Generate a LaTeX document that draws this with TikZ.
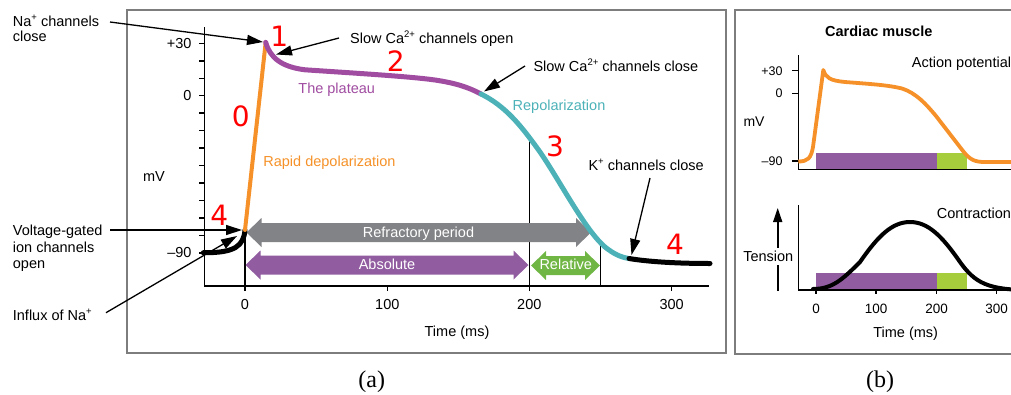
\documentclass[tikz,border=0pt]{standalone}
\usepackage{fontspec}
\setmainfont{Liberation Sans}
\newfontfamily\phasefont{DejaVu Sans}
\newfontfamily\panelfont{Liberation Serif}
\usetikzlibrary{arrows.meta}

\definecolor{apOrange}{RGB}{245,145,40}
\definecolor{apPurple}{RGB}{160,76,160}
\definecolor{apTeal}{RGB}{76,178,184}
\definecolor{refGray}{RGB}{130,131,134}
\definecolor{absPurple}{RGB}{145,92,160}
\definecolor{relGreen}{RGB}{112,182,68}
\definecolor{barGreen}{RGB}{166,206,60}
\definecolor{frameGray}{RGB}{125,125,125}

% raised small index (ion charges)
\newcommand{\sups}[1]{\raisebox{6pt}{\fontsize{9.5}{10}\selectfont #1}}
% horizontal two-headed block arrow: colour, left tip x, right tip x, centre y
\newcommand{\blockarrow}[4]{%
  \fill[#1] (#2,#4) -- (#2+15,#4-14.5) -- (#2+15,#4-9.5) -- (#3-15,#4-9.5)
    -- (#3-15,#4-14.5) -- (#3,#4) -- (#3-15,#4+14.5) -- (#3-15,#4+9.5)
    -- (#2+15,#4+9.5) -- (#2+15,#4+14.5) -- cycle;}

\begin{document}
\begin{tikzpicture}[x=1pt,y=-1pt,
  lbl/.style={inner sep=0pt, font=\fontsize{14.5}{17}\selectfont},
  ticklbl/.style={inner sep=0pt, font=\fontsize{12.5}{14}\selectfont},
  phasenum/.style={inner sep=0pt, text=red, font=\phasefont\fontsize{28}{30}\selectfont},
  paneltag/.style={inner sep=0pt, font=\panelfont\fontsize{24}{26}\selectfont},
  panelframe/.style={draw=frameGray, line width=1.4pt},
  axisline/.style={line width=1.5pt},
  guide/.style={line width=1.2pt},
  ptr/.style={line width=1.3pt, -{Triangle[length=16pt,width=10pt]}},
  aptrace/.style={line width=5pt, line cap=round, line join=round},
]
\useasboundingbox (0,0) rectangle (1011,394);
\clip (0,0) rectangle (1011,394);

% ---------------- panel (a) ----------------
\draw[panelframe] (127,10) rectangle (726,353);

% axes and ticks
\draw[axisline] (204.7,27) -- (204.7,286) -- (709,286);
\foreach \v in {30,20,...,-90}
  \draw[axisline] (199,{95.7-1.745*\v}) -- (204.7,{95.7-1.745*\v});
\draw[axisline] (387.3,286) -- (387.3,291);
\draw[axisline] (671.7,286) -- (671.7,291);

% time markers at 0, 200 and 250 ms
\draw[guide] (245,291) -- (245,230);
\draw[guide] (529.3,291) -- (529.3,141);
\draw[guide] (600.7,286) -- (600.7,243);

% axis labels
\node[lbl, anchor=base east] (ya30) at (191.7,48.3) {+30};
\node[lbl, anchor=base east] (ya0) at (191.7,100.7) {0};
\node[lbl, anchor=base east] (ya90) at (191.7,257.7) {–90};
\node[lbl, anchor=base] (yamv) at (154,181.7) {mV};
\node[lbl, anchor=base] (xa0) at (245,309) {0};
\node[lbl, anchor=base] (xa100) at (387.3,309) {100};
\node[lbl, anchor=base] (xa200) at (529.3,309) {200};
\node[lbl, anchor=base] (xa300) at (671.7,309) {300};
\node[lbl, anchor=base] (xatime) at (457,336.7) {Time (ms)};

% refractory periods
\blockarrow{refGray}{246.5}{591}{232.5}
\node[lbl, text=white, anchor=base] (refr) at (418.5,237.7) {Refractory period};
\blockarrow{absPurple}{245.5}{528.5}{265}
\node[lbl, text=white, anchor=base] (absl) at (387,269.3) {Absolute};
\blockarrow{relGreen}{531}{600}{265.5}
\node[lbl, text=white, anchor=base] (relt) at (565.7,269.3) {Relative};

% action potential trace
\draw[aptrace, black] (203.3,252.7) .. controls (235,253) and (243.5,246) .. (245,230);
\draw[aptrace, apOrange, line width=4pt] (245,230) -- (265.7,42.3);
\draw[aptrace, apPurple] (265.7,42.3) .. controls (270,58) and (282,67) .. (305,69.8)
  .. controls (360,73.5) and (410,76.5) .. (435,80)
  .. controls (455,83) and (468,87) .. (481,94);
\draw[aptrace, apTeal] (481,94) .. controls (505,106) and (520,124) .. (540,152)
  .. controls (560,181) and (585,230) .. (605,247)
  .. controls (614,254) and (620,257) .. (629,258.5);
\draw[aptrace, black] (629,258.5) .. controls (650,262) and (680,263.5) .. (710,263.5);

% phase names
\node[lbl, text=apPurple, anchor=base] (plat) at (336.7,93.3) {The plateau};
\node[lbl, text=apTeal, anchor=base] (repol) at (559,110) {Repolarization};
\node[lbl, text=apOrange, anchor=base] (rapid) at (329.5,166) {Rapid depolarization};

% phase numbers
\node[phasenum, anchor=base] (ph0) at (240.7,126) {0};
\node[phasenum, anchor=base] (ph1) at (279.3,46.7) {1};
\node[phasenum, anchor=base] (ph2) at (395.7,71.7) {2};
\node[phasenum, anchor=base] (ph3) at (555,156.7) {3};
\node[phasenum, anchor=base] (ph4a) at (219.3,225) {4};
\node[phasenum, anchor=base] (ph4b) at (675,254) {4};

% channel events
\node[lbl, anchor=base west] (naA) at (12.7,26) {Na\sups{+} channels};
\node[lbl, anchor=base west] (naB) at (12.7,41.7) {close};
\node[lbl, anchor=base west] (caopen) at (350,43.3) {Slow Ca\sups{2+} channels open};
\node[lbl, anchor=base west] (caclose) at (533.3,71.7) {Slow Ca\sups{2+} channels close};
\node[lbl, anchor=base west] (kclose) at (588.3,170.7) {K\sups{+} channels close};
\node[lbl, anchor=base west] (vgA) at (12.7,235.7) {Voltage-gated};
\node[lbl, anchor=base west] (vgB) at (12.7,252.3) {ion channels};
\node[lbl, anchor=base west] (vgC) at (12.7,268.3) {open};
\node[lbl, anchor=base west] (influx) at (12.7,320) {Influx of Na\sups{+}};

\coordinate (naTail) at (110,22);
\coordinate (naTip) at (263,42);
\coordinate (caoTail) at (339,38);
\coordinate (caoTip) at (276,54.5);
\coordinate (cacTail) at (525,66);
\coordinate (cacTip) at (484,91.5);
\coordinate (kTail) at (650,178);
\coordinate (kTip) at (631.5,255);
\coordinate (vgTail) at (110,230);
\coordinate (vgTip) at (242,230);
\coordinate (inTail) at (106,312.7);
\coordinate (inTip) at (237,236);

\draw[ptr] (naTail) -- (naTip);
\draw[ptr] (caoTail) -- (caoTip);
\draw[ptr] (cacTail) -- (cacTip);
\draw[ptr] (kTail) -- (kTip);
\draw[ptr] (vgTail) -- (vgTip);
\draw[ptr] (inTail) -- (inTip);

\node[paneltag, anchor=base] (tagA) at (371.7,387) {(a)};

% ---------------- panel (b) ----------------
\draw[panelframe] (735,10) rectangle (1030,354);
\node[lbl, font=\fontsize{14.5}{17}\selectfont\bfseries, anchor=base] (cm) at (878.8,36.7) {Cardiac muscle};

% action potential
\fill[absPurple] (815.7,152.7) rectangle (936.7,169.3);
\fill[barGreen] (936.7,152.7) rectangle (966.7,169.3);
\draw[axisline] (798.3,55) -- (798.3,169.3) -- (1030,169.3);
\foreach \y in {70.7,93.3,161}
  \draw[axisline] (792,\y) -- (798.3,\y);
\node[ticklbl, anchor=base east] (yb30) at (782.7,75) {+30};
\node[ticklbl, anchor=base east] (yb0) at (782.7,97.7) {0};
\node[ticklbl, anchor=base east] (yb90) at (782.7,165) {–90};
\node[lbl, font=\fontsize{14}{16}\selectfont, anchor=base west] (ybmv) at (743.3,126) {mV};
\node[lbl, anchor=base west] (aplbl) at (911.7,67.7) {Action potential};
\draw[apOrange, line width=3.8pt, line join=round]
  (798.3,161.5) .. controls (808,161.5) and (811,158) .. (813,147)
  -- (823.3,70) .. controls (826,78) and (830,80.5) .. (845,82)
  .. controls (870,84) and (888,85) .. (902,88.5)
  .. controls (916,93) and (926,104) .. (936,116)
  -- (963,151) .. controls (970,160) and (975,162) .. (985,162) -- (1030,162);

% contraction
\fill[absPurple] (815.7,272.7) rectangle (936.7,290);
\fill[barGreen] (936.7,272.7) rectangle (966.7,290);
\draw[axisline] (798.3,205) -- (798.3,290) -- (1030,290);
\foreach \x in {816,876.2,936.5,996.7}
  \draw[axisline] (\x,290) -- (\x,294);
\node[lbl, font=\fontsize{13.5}{16}\selectfont, anchor=base] (xb0) at (816,313.3) {0};
\node[lbl, font=\fontsize{13.5}{16}\selectfont, anchor=base] (xb100) at (876.2,313.3) {100};
\node[lbl, font=\fontsize{13.5}{16}\selectfont, anchor=base] (xb200) at (936.5,313.3) {200};
\node[lbl, font=\fontsize{13.5}{16}\selectfont, anchor=base] (xb300) at (996.7,313.3) {300};
\node[lbl, anchor=base] (xbtime) at (905.7,337.7) {Time (ms)};
\node[lbl, anchor=base west] (ctlbl) at (936.7,218.3) {Contraction};
\draw[line width=4pt, line cap=round]
  (813,289) .. controls (832,289) and (842,280) .. (860,262)
  .. controls (878,236) and (892,222) .. (910,222)
  .. controls (928,222) and (942,236) .. (960,262)
  .. controls (975,283) and (988,290) .. (1030,290);

\coordinate (tenBase) at (777.7,291);
\coordinate (tenTip) at (777.7,208);
\draw[line width=1.6pt, -{Triangle[length=14pt,width=9pt]}] (tenBase) -- (tenTip);
\node[lbl, fill=white, inner xsep=1pt, inner ysep=3pt, anchor=base] (tension) at (768.3,261.7) {Tension};

\node[paneltag, anchor=base] (tagB) at (880,387) {(b)};
\end{tikzpicture}
\end{document}
